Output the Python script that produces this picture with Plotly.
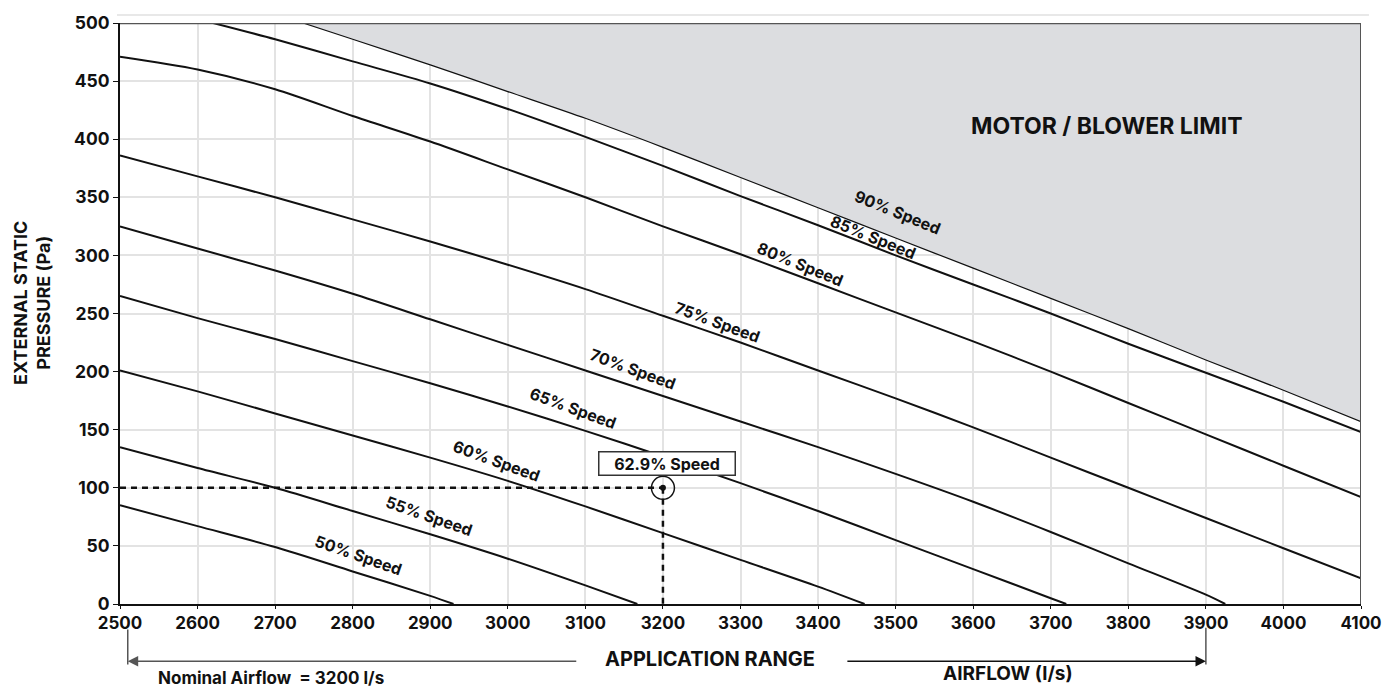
import plotly.graph_objects as go

# Fan performance curves: external static pressure (Pa) vs airflow (l/s) per blower speed
airflow_50 = [2500, 2600, 2700, 2800, 2900, 2930]
pressure_50 = [85, 67, 49, 28, 7, 0]

airflow_55 = [2500, 2600, 2700, 2800, 2900, 3000, 3100, 3167]
pressure_55 = [135, 117, 100, 80, 60, 39, 16, 0]

airflow_60 = [2500, 2600, 2700, 2800, 2900, 3000, 3100, 3200, 3300, 3400, 3460]
pressure_60 = [201, 183, 164, 145, 126, 106, 84, 61, 38, 15, 0]

airflow_65 = [2500, 2600, 2700, 2800, 2900, 3000, 3100, 3200, 3300, 3400, 3500, 3600, 3700, 3720]
pressure_65 = [265, 246, 228, 209, 190, 170, 149, 127, 104, 80, 55, 30, 5, 0]

airflow_70 = [2500, 2600, 2700, 2800, 2900, 3000, 3100, 3200, 3300, 3400, 3500, 3600, 3700, 3800, 3900, 3925]
pressure_70 = [325, 306, 287, 267, 245, 223, 201, 179, 157, 135, 112, 88, 62, 35, 8, 0]

airflow_75 = [2500, 2600, 2700, 2800, 2900, 3000, 3100, 3200, 3300, 3400, 3500, 3600, 3700, 3800, 3900, 4000, 4100]
pressure_75 = [386, 368, 350, 331, 312, 292, 271, 248, 225, 201, 177, 152, 126, 100, 74, 48, 22]

airflow_80 = [2500, 2600, 2700, 2800, 2900, 3000, 3100, 3200, 3300, 3400, 3500, 3600, 3700, 3800, 3900, 4000, 4100]
pressure_80 = [471, 460, 443, 420, 398, 374, 350, 325, 301, 276, 251, 226, 200, 173, 146, 119, 92]

airflow_85 = [2620, 2700, 2800, 2900, 3000, 3100, 3200, 3300, 3400, 3500, 3600, 3700, 3800, 3900, 4000, 4100]
pressure_85 = [500, 486, 467, 448, 426, 402, 377, 351, 326, 300, 275, 250, 224, 199, 174, 148]

# 90% speed also bounds the motor / blower limit region
airflow_90 = [2736, 2800, 2900, 3000, 3100, 3200, 3300, 3400, 3500, 3600, 3700, 3800, 3900, 4000, 4100]
pressure_90 = [500, 486, 464, 441, 418, 393, 367, 341, 315, 289, 263, 237, 210, 184, 157]

speed_labels = ["50% Speed", "55% Speed", "60% Speed", "65% Speed", "70% Speed",
                "75% Speed", "80% Speed", "85% Speed", "90% Speed"]

# Selected operating point
nominal_airflow = 3200
design_pressure = 100
operating_label = "62.9% Speed"

# Application range limits (l/s)
range_min = 2510
range_max = 3900

x_ticks = [2500, 2600, 2700, 2800, 2900, 3000, 3100, 3200, 3300, 3400, 3500, 3600, 3700, 3800, 3900, 4000, 4100]
y_ticks = [0, 50, 100, 150, 200, 250, 300, 350, 400, 450, 500]

X_MIN, X_MAX = 2500, 4100
Y_MIN, Y_MAX = 0, 500

FONT = "Inter"
W = 700
INK = "#111111"


def bold(size):
    return dict(family=FONT, size=size, color=INK, weight=W)


curves = [
    (airflow_50, pressure_50), (airflow_55, pressure_55), (airflow_60, pressure_60),
    (airflow_65, pressure_65), (airflow_70, pressure_70), (airflow_75, pressure_75),
    (airflow_80, pressure_80), (airflow_85, pressure_85),
]

fig = go.Figure()

# Shaded motor / blower limit area above the 90% curve
fig.add_trace(go.Scatter(
    x=airflow_90 + [X_MAX, airflow_90[0]],
    y=pressure_90 + [Y_MAX, Y_MAX],
    fill="toself", fillcolor="#dcdde0", mode="lines",
    line=dict(width=0), hoverinfo="skip", showlegend=False,
))
fig.add_trace(go.Scatter(
    x=airflow_90, y=pressure_90, mode="lines",
    line=dict(color=INK, width=1.2, shape="spline", smoothing=0.8),
    showlegend=False,
))

for xs, ys in curves:
    fig.add_trace(go.Scatter(
        x=xs, y=ys, mode="lines",
        line=dict(color=INK, width=2, shape="spline", smoothing=0.8),
        showlegend=False,
    ))

# Dashed guides to the operating point
fig.add_trace(go.Scatter(
    x=[X_MIN, nominal_airflow], y=[design_pressure, design_pressure], mode="lines",
    line=dict(color=INK, width=2.5, dash="6px,5px"), showlegend=False,
))
fig.add_trace(go.Scatter(
    x=[nominal_airflow, nominal_airflow], y=[design_pressure, Y_MIN], mode="lines",
    line=dict(color=INK, width=2.5, dash="6px,5px"), showlegend=False,
))
fig.add_trace(go.Scatter(
    x=[nominal_airflow], y=[design_pressure], mode="markers",
    marker=dict(symbol="circle-open", size=23, color=INK, line=dict(width=1.5)),
    showlegend=False,
))
fig.add_trace(go.Scatter(
    x=[nominal_airflow], y=[design_pressure], mode="markers",
    marker=dict(symbol="circle", size=6, color=INK),
    showlegend=False,
))

# Curve labels placed along each line
label_anchor_x = [2807, 2899, 2986, 3084, 3161, 3270, 3377, 3471, 3502]
label_anchor_y = [42, 76, 123, 169, 202, 243, 293, 316, 337]
label_angle = [19, 19, 20, 20, 20, 20, 22, 22, 22]
for txt, lx, ly, ang in zip(speed_labels, label_anchor_x, label_anchor_y, label_angle):
    fig.add_annotation(
        x=lx, y=ly, text=txt, showarrow=False, textangle=ang,
        xanchor="center", yanchor="middle", font=bold(16),
    )

fig.add_annotation(
    x=3773, y=411, text="MOTOR / BLOWER LIMIT", showarrow=False,
    xanchor="center", yanchor="middle", font=bold(23),
)

fig.add_annotation(
    x=nominal_airflow + 5, y=design_pressure + 21, text=operating_label,
    showarrow=False, bgcolor="white", bordercolor="#333333", borderwidth=1.5,
    borderpad=2, width=131, height=18, align="center",
    xanchor="center", yanchor="middle", font=bold(16),
)

# Frame lines on top and right
fig.add_shape(type="line", xref="x", yref="y", x0=X_MIN, x1=X_MAX, y0=Y_MAX, y1=Y_MAX,
              line=dict(color="#555555", width=2.5))
fig.add_shape(type="line", xref="x", yref="y", x0=X_MAX, x1=X_MAX, y0=Y_MIN, y1=Y_MAX,
              line=dict(color="#555555", width=2))
fig.add_shape(type="line", xref="paper", yref="paper", x0=-0.0024, x1=1.0064, y0=1.0136, y1=1.0136,
              line=dict(color="#e8e8e8", width=2))

# Application range bracket beneath the axis
fig.add_shape(type="line", xref="x", yref="paper", x0=range_min, x1=range_min, y0=-0.044, y1=-0.104,
              line=dict(color="#555555", width=1.5))
fig.add_shape(type="line", xref="x", yref="paper", x0=range_max, x1=range_max, y0=-0.041, y1=-0.104,
              line=dict(color="#555555", width=1.5))
fig.add_annotation(
    x=range_min, y=-0.0985, xref="x", yref="paper", ax=450, ay=0, axref="pixel", ayref="pixel",
    showarrow=True, arrowhead=2, arrowsize=1.6, arrowwidth=1.3, arrowcolor="#555555", text="",
)
fig.add_annotation(
    x=range_max, y=-0.0985, xref="x", yref="paper", ax=-360, ay=0, axref="pixel", ayref="pixel",
    showarrow=True, arrowhead=2, arrowsize=1.6, arrowwidth=1.3, arrowcolor=INK, text="",
)
fig.add_annotation(
    x=0.4755, y=-0.095, xref="paper", yref="paper", showarrow=False,
    xanchor="center", yanchor="middle",
    text="APPLICATION RANGE", bgcolor="white", font=bold(20),
)
fig.add_annotation(
    x=0.1215, y=-0.1273, xref="paper", yref="paper", showarrow=False,
    xanchor="center", yanchor="middle",
    text="Nominal Airflow  = 3200 l/s", font=bold(17),
)
fig.add_annotation(
    x=0.7154, y=-0.12, xref="paper", yref="paper", showarrow=False,
    xanchor="center", yanchor="middle",
    text="AIRFLOW (l/s)", font=bold(19),
)

# Y axis title
fig.add_annotation(
    x=-0.071, y=0.518, xref="paper", yref="paper", showarrow=False, textangle=-90,
    xanchor="center", yanchor="middle",
    text="EXTERNAL STATIC<br>PRESSURE (Pa)", font=bold(18),
)

fig.update_xaxes(
    range=[X_MIN, X_MAX], tickvals=x_ticks, ticktext=[str(v) for v in x_ticks],
    showgrid=True, gridcolor="#e3e3e3", gridwidth=1.5, zeroline=False,
    showline=True, linecolor=INK, linewidth=2,
    ticks="outside", ticklen=3, tickcolor=INK,
    tickfont=bold(17),
)
fig.update_yaxes(
    range=[Y_MIN, Y_MAX], tickvals=y_ticks, ticktext=[str(v) for v in y_ticks],
    showgrid=True, gridcolor="#e3e3e3", gridwidth=1.5, zeroline=False,
    showline=True, linecolor=INK, linewidth=2,
    ticks="outside", ticklen=5, tickcolor=INK,
    tickfont=bold(17.5),
)

fig.update_layout(
    width=1394, height=689,
    margin=dict(l=120, r=30, t=15, b=85),
    paper_bgcolor="white", plot_bgcolor="white",
    showlegend=False,
    font=dict(family=FONT, color=INK),
)

fig.write_html("out.html")
